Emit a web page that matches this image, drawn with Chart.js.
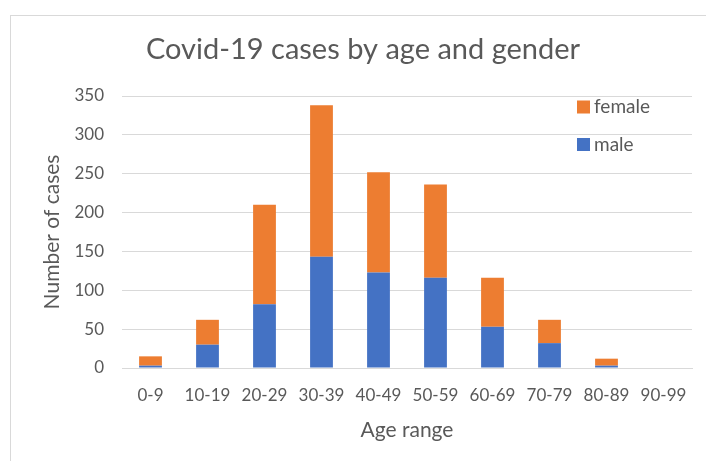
<!DOCTYPE html>
<html>
<head>
<meta charset="utf-8">
<script src="https://cdn.jsdelivr.net/npm/chart.js@4/dist/chart.umd.min.js"></script>
<style>
  html, body { margin: 0; padding: 0; background: #fff; }
  #wrap { width: 706px; height: 461px; }
</style>
</head>
<body>
<div id="wrap"><canvas id="chart" width="706" height="461"></canvas></div>
<script>
// datos
const ageRanges = ['0-9', '10-19', '20-29', '30-39', '40-49', '50-59', '60-69', '70-79', '80-89', '90-99'];
const maleCases = [3, 30, 82, 143, 123, 116, 53, 32, 3, 0];
const femaleCases = [12, 32, 128, 195, 129, 120, 63, 30, 9, 0];
const yTicks = [0, 50, 100, 150, 200, 250, 300, 350];
const chartTitle = 'Covid-19 cases by age and gender';

const FONT = 'Lato, "Open Sans", sans-serif';
const TEXT = '#595959';

// marco gris y titulo (el titulo va algo a la derecha del centro, como en Excel)
const framePlugin = {
  id: 'frame',
  beforeDraw(chart) {
    const ctx = chart.ctx;
    ctx.save();
    ctx.strokeStyle = '#d9d9d9';
    ctx.lineWidth = 1;
    ctx.strokeRect(10.5, 15.5, 900, 600);
    ctx.font = '29px ' + FONT;
    ctx.fillStyle = TEXT;
    ctx.textAlign = 'center';
    ctx.textBaseline = 'alphabetic';
    ctx.fillText(chartTitle, 363, 59);
    ctx.restore();
  }
};

// leyenda dentro del area (female arriba, male abajo)
const insideLegend = {
  id: 'insideLegend',
  afterDraw(chart) {
    const ctx = chart.ctx;
    const sets = chart.data.datasets.slice().reverse();
    ctx.save();
    ctx.font = '19px ' + FONT;
    ctx.textBaseline = 'middle';
    sets.forEach((ds, i) => {
      const y = 107 + i * 37.5;
      ctx.fillStyle = ds.backgroundColor;
      ctx.fillRect(577, y - 6.5, 13, 13);
      ctx.fillStyle = TEXT;
      ctx.fillText(ds.label, 594, y);
    });
    ctx.restore();
  }
};

new Chart(document.getElementById('chart'), {
  type: 'bar',
  data: {
    labels: ageRanges,
    datasets: [
      { label: 'male', data: maleCases, backgroundColor: '#4472c4' },
      { label: 'female', data: femaleCases, backgroundColor: '#ed7d31' }
    ]
  },
  options: {
    responsive: false,
    animation: false,
    layout: { padding: { left: 10, right: 14, top: 96, bottom: 14 } },
    datasets: { bar: { barPercentage: 0.4, categoryPercentage: 1 } },
    plugins: {
      legend: { display: false },
      tooltip: { enabled: false },
      title: { display: false }
    },
    scales: {
      x: {
        stacked: true,
        grid: { display: false, drawTicks: false },
        border: { display: true, color: '#d9d9d9' },
        ticks: { color: TEXT, font: { family: FONT, size: 17 }, padding: 17, maxRotation: 0 },
        title: { display: true, text: 'Age range', color: TEXT, font: { family: FONT, size: 21 }, padding: { top: 4, bottom: 4 } },
        afterFit(scale) { scale.height = 79; }
      },
      y: {
        stacked: true,
        min: 0,
        max: 350,
        afterBuildTicks(scale) { scale.ticks = yTicks.map(v => ({ value: v })); },
        grid: { color: '#d9d9d9', drawTicks: false },
        border: { display: false },
        ticks: { color: TEXT, font: { family: FONT, size: 17 }, padding: 18 },
        title: { display: true, text: 'Number of cases', color: TEXT, font: { family: FONT, size: 21 }, padding: 30 },
        afterFit(scale) { scale.width = 112; }
      }
    }
  },
  plugins: [framePlugin, insideLegend]
});
</script>
</body>
</html>
